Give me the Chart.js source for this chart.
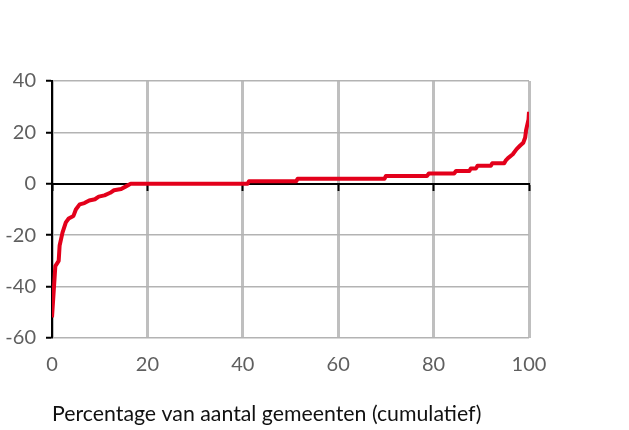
<!DOCTYPE html>
<html>
<head>
<meta charset="utf-8">
<script src="https://cdn.jsdelivr.net/npm/chart.js@4"></script>
<style>
  html, body { margin: 0; padding: 0; background: #fff; }
</style>
</head>
<body>
<canvas id="c" width="629" height="430"></canvas>
<script>
// cumulatief percentage gemeenten (x) en verandering (y)
const pctGemeenten = [0, 0.7, 1.4, 1.6, 2.2, 2.9, 3.5, 4.5, 5, 5.8, 6.8, 7.8, 9, 9.8, 11, 12.2, 13, 14.5, 15.5, 16.5,
  41, 41.3, 51.2, 51.5, 69.7, 70, 78.6, 79, 84.3, 84.7, 87.5, 87.8, 88.9, 89.2, 92, 92.3, 94.8, 95.1,
  95.6, 96.6, 97.4, 98.1, 98.8, 99.2, 99.4, 99.9, 100];
const waarden = [-52, -32, -30, -24, -19, -15, -13.5, -12.5, -10, -8, -7.5, -6.5, -6, -5, -4.5, -3.5, -2.5, -2, -1, 0,
  0, 1, 1, 2, 2, 3, 3, 4, 4, 5, 5, 6, 6, 7, 7, 8, 8, 9,
  10, 11.5, 13.5, 14.8, 16, 18, 21, 25, 28];
const xTicks = [0, 20, 40, 60, 80, 100];
const yTicks = [-60, -40, -20, 0, 20, 40];
const xTitel = 'Percentage van aantal gemeenten (cumulatief)';

const FONT = 'Lato';
const points = pctGemeenten.map((x, i) => ({ x: x, y: waarden[i] }));

new Chart(document.getElementById('c'), {
  type: 'scatter',
  data: {
    datasets: [{
      data: points,
      showLine: true,
      borderColor: '#e3001b',
      borderWidth: 4,
      pointRadius: 0,
      tension: 0,
      borderJoinStyle: 'round',
      xAxisID: 'x',
      yAxisID: 'y'
    }]
  },
  options: {
    responsive: false,
    animation: false,
    devicePixelRatio: 1,
    layout: { padding: { top: 81, right: 100, left: 0, bottom: 0 } },
    plugins: { legend: { display: false }, tooltip: { enabled: false } },
    scales: {
      x: {
        type: 'linear',
        position: 'bottom',
        min: xTicks[0],
        max: xTicks[xTicks.length - 1],
        afterBuildTicks: s => { s.ticks = xTicks.map(v => ({ value: v })); },
        afterFit: s => { s.height = 92; },
        grid: { color: '#bfbfbf', lineWidth: 3, drawTicks: false },
        border: { display: false },
        ticks: { color: '#5f5f5f', font: { family: FONT, size: 20 }, padding: 15 },
        title: {
          display: true, text: xTitel, align: 'start', color: '#111',
          font: { family: FONT, size: 21.3 }, padding: { top: 0, bottom: 3 }
        }
      },
      xNul: {
        type: 'linear',
        axis: 'x',
        position: { y: 0 },
        min: xTicks[0],
        max: xTicks[xTicks.length - 1],
        afterBuildTicks: s => { s.ticks = xTicks.map(v => ({ value: v })); },
        grid: { drawOnChartArea: false, drawTicks: true, tickLength: 6, tickColor: '#000', tickWidth: 2 },
        border: { color: '#000', width: 2 },
        ticks: { display: false }
      },
      y: {
        type: 'linear',
        min: yTicks[0],
        max: yTicks[yTicks.length - 1],
        afterBuildTicks: s => { s.ticks = yTicks.map(v => ({ value: v })); },
        afterFit: s => { s.width = 52; },
        grid: { color: '#b3b3b3', lineWidth: 1.5, tickColor: '#000', tickWidth: 2, tickLength: 6 },
        border: { color: '#000', width: 2 },
        ticks: { color: '#5f5f5f', font: { family: FONT, size: 20 }, padding: 10 }
      }
    }
  }
});
</script>
</body>
</html>
